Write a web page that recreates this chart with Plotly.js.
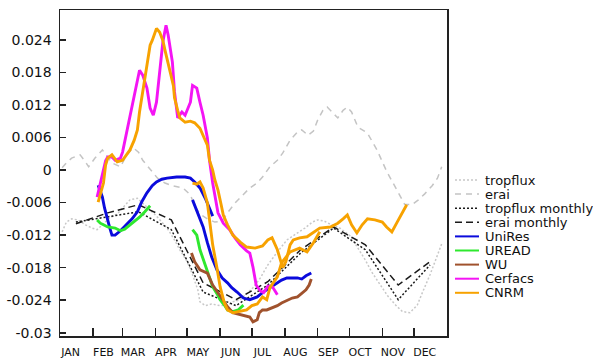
<!DOCTYPE html>
<html>
<head>
<meta charset="utf-8">
<script src="https://cdn.plot.ly/plotly-3.0.1.min.js"></script>
<style>html,body{margin:0;padding:0;background:#fff;}#chart{width:593px;height:359px;}</style>
</head>
<body>
<div id="chart"></div>
<script>
// ---- data (x = day of year, y = value) ----
const monthNames = ["JAN","FEB","MAR","APR","MAY","JUN","JUL","AUG","SEP","OCT","NOV","DEC"];
const monthStarts = [0,31,59,90,120,151,181,212,243,273,304,334];
const yTickVals = [-0.03,-0.024,-0.018,-0.012,-0.006,0,0.006,0.012,0.018,0.024];
const yTickText = ["-0.03","-0.024","-0.018","-0.012","-0.006","0","0.006","0.012","0.018","0.024"];

const tropfluxDays = [2,6,11,17,24,30,35,41,47,54,60,66,73,78,83,90,96,102,108,113,120,125,130,132,137,143,151,158,163,170,176,182,189,196,205,214,224,231,238,243,249,256,264,274,281,288,294,302,309,317,323,330,337,342,349,355,360];
const tropfluxVals = [-0.0114,-0.0096,-0.0090,-0.0092,-0.0101,-0.0107,-0.0110,-0.0099,-0.0088,-0.0081,-0.0068,-0.0055,-0.0052,-0.0061,-0.0070,-0.0083,-0.0096,-0.0110,-0.0129,-0.0147,-0.0169,-0.0193,-0.0221,-0.0243,-0.0250,-0.0247,-0.0250,-0.0249,-0.0243,-0.0239,-0.0228,-0.0217,-0.0199,-0.0175,-0.0151,-0.0129,-0.0116,-0.0107,-0.0096,-0.0092,-0.0094,-0.0101,-0.0107,-0.0122,-0.0144,-0.0166,-0.0188,-0.0212,-0.0232,-0.0250,-0.0261,-0.0263,-0.0249,-0.0225,-0.0193,-0.0162,-0.0136];

const eraiDays = [2,6,11,19,24,27,33,40,44,49,57,63,69,74,78,83,87,92,99,106,116,123,127,132,139,146,153,158,165,173,179,186,191,198,205,210,217,224,228,234,239,243,248,252,257,262,267,271,275,281,290,299,308,318,325,332,338,344,351,356,360];
const eraiVals = [0.0004,0.0013,0.0022,0.0028,0.0015,0.0006,0.0022,0.0037,0.0026,0.0013,0.0006,0.0028,0.0041,0.0033,0.0018,0.0006,-0.0004,-0.0015,-0.0024,-0.0029,-0.0033,-0.0046,-0.0066,-0.0081,-0.0090,-0.0096,-0.0094,-0.0079,-0.0061,-0.0044,-0.0033,-0.0024,-0.0013,0.0006,0.0018,0.0031,0.0055,0.0070,0.0074,0.0064,0.0072,0.0092,0.0110,0.0116,0.0105,0.0096,0.0110,0.0116,0.0107,0.0079,0.0068,0.0037,-0.0002,-0.0037,-0.0063,-0.0064,-0.0055,-0.0044,-0.0029,-0.0015,0.0006];

const monthMidDays = [15,45,74,105,135,166,196,227,258,288,319,349];
const tropfluxMonthlyVals = [-0.0096,-0.0087,-0.0077,-0.0110,-0.0225,-0.0250,-0.0212,-0.0153,-0.0107,-0.0147,-0.0239,-0.0175];
const eraiMonthlyVals = [-0.0099,-0.0079,-0.0064,-0.0092,-0.0208,-0.0239,-0.0206,-0.0147,-0.0105,-0.0138,-0.0212,-0.0169];

// model forecasts: runs separated by null
const uniresDays = [36,38,40,42,44,47,49,52,57,63,68,73,77,82,87,91,96,101,110,118,123,127,132,137,141,144,null,
  125,130,135,139,143,148,153,158,162,167,173,179,186,191,195,200,205,209,214,219,224,228,232,237];
const uniresVals = [-0.0028,-0.0039,-0.0050,-0.0070,-0.0087,-0.0107,-0.0120,-0.0120,-0.0112,-0.0101,-0.0090,-0.0077,-0.0059,-0.0042,-0.0029,-0.0022,-0.0017,-0.0015,-0.0013,-0.0013,-0.0015,-0.0022,-0.0033,-0.0052,-0.0070,-0.0085,null,
  -0.0055,-0.0079,-0.0105,-0.0134,-0.0160,-0.0184,-0.0199,-0.0208,-0.0217,-0.0225,-0.0236,-0.0239,-0.0234,-0.0226,-0.0221,-0.0215,-0.0208,-0.0203,-0.0199,-0.0199,-0.0199,-0.0201,-0.0195,-0.0190];

const ureadDays = [35,38,41,45,52,57,61,66,71,75,80,85,null,
  125,129,132,136,139,141,144,148,151,155,158,163,168,173];
const ureadVals = [-0.0092,-0.0098,-0.0101,-0.0105,-0.0107,-0.0112,-0.0109,-0.0101,-0.0094,-0.0087,-0.0077,-0.0066,null,
  -0.0110,-0.0120,-0.0147,-0.0169,-0.0184,-0.0199,-0.0215,-0.0228,-0.0239,-0.0249,-0.0258,-0.0261,-0.0258,-0.0249];

const wuDays = [124,127,132,139,144,149,154,158,163,170,175,179,182,186,188,191,195,200,205,209,214,219,224,228,232,235,237];
const wuVals = [-0.0153,-0.0169,-0.0184,-0.0190,-0.0212,-0.0226,-0.0239,-0.0252,-0.0263,-0.0267,-0.0269,-0.0271,-0.0280,-0.0276,-0.0263,-0.0258,-0.0258,-0.0254,-0.0250,-0.0245,-0.0241,-0.0236,-0.0234,-0.0228,-0.0221,-0.0212,-0.0201];

const cerfacsDays = [35,38,41,43,45,49,52,57,59,63,68,73,75,78,82,85,88,91,94,97,100,102,106,108,111,115,118,123,125,129,132,135,139,141,144,149,154,160,165,170,176,179,182,185,189,192,196,200,205];
const cerfacsVals = [-0.0050,-0.0024,-0.0004,0.0017,0.0024,0.0024,0.0018,0.0022,0.0033,0.0070,0.0120,0.0169,0.0184,0.0175,0.0151,0.0114,0.0101,0.0125,0.0188,0.0236,0.0267,0.0249,0.0199,0.0144,0.0096,0.0107,0.0101,0.0125,0.0156,0.0151,0.0125,0.0101,0.0059,0.0018,-0.0024,-0.0079,-0.0098,-0.0110,-0.0125,-0.0138,-0.0149,-0.0153,-0.0179,-0.0212,-0.0223,-0.0226,-0.0214,-0.0214,-0.0230];

const cnrmDays = [36,38,41,43,45,49,54,59,66,70,73,75,78,81,83,85,87,90,91,94,97,99,102,104,107,108,111,113,118,123,127,132,136,139,141,144,146,149,152,154,158,163,170,176,184,191,196,200,205,210,213,217,220,226,233,238,245,255,262,267,271,275,280,285,290,297,304,308,313,318,323,327,null,
  125,129,132,135,139,141,144,148,151,155,158,163,170,176,181,186,191,195,198,205,209,217,226,233,239,245];
const cnrmVals = [-0.0059,-0.0046,-0.0024,0.0009,0.0022,0.0028,0.0015,0.0018,0.0037,0.0055,0.0074,0.0107,0.0144,0.0184,0.0212,0.0230,0.0239,0.0254,0.0261,0.0254,0.0239,0.0221,0.0199,0.0180,0.0155,0.0133,0.0110,0.0096,0.0088,0.0090,0.0087,0.0077,0.0059,0.0046,0.0018,0.0000,-0.0018,-0.0037,-0.0064,-0.0083,-0.0101,-0.0120,-0.0133,-0.0142,-0.0144,-0.0140,-0.0129,-0.0125,-0.0147,-0.0180,-0.0169,-0.0138,-0.0129,-0.0125,-0.0123,-0.0116,-0.0107,-0.0105,-0.0098,-0.0090,-0.0083,-0.0101,-0.0116,-0.0101,-0.0090,-0.0092,-0.0096,-0.0105,-0.0114,-0.0096,-0.0079,-0.0064,null,
  -0.0024,-0.0026,-0.0022,-0.0033,-0.0061,-0.0096,-0.0138,-0.0180,-0.0215,-0.0245,-0.0258,-0.0263,-0.0261,-0.0258,-0.0250,-0.0247,-0.0234,-0.0239,-0.0217,-0.0197,-0.0171,-0.0151,-0.0144,-0.0151,-0.0134,-0.0114];

const seriesNames = ["tropflux","erai","tropflux monthly","erai monthly","UniRes","UREAD","WU","Cerfacs","CNRM"];

// ---- styles ----
const styles = [
  {color:"#c8c8c8", width:1.5, dash:"2px,2px"},
  {color:"#c4c4c4", width:1.5, dash:"6px,5px"},
  {color:"#1a1a1a", width:1.5, dash:"2px,2px"},
  {color:"#1a1a1a", width:1.5, dash:"7px,4px"},
  {color:"#0b0bdc", width:2.9, dash:"solid"},
  {color:"#2ee82e", width:2.9, dash:"solid"},
  {color:"#a0522d", width:2.9, dash:"solid"},
  {color:"#f414f4", width:2.9, dash:"solid"},
  {color:"#f7a200", width:2.9, dash:"solid"}
];
const xs = [tropfluxDays, eraiDays, monthMidDays, monthMidDays, uniresDays, ureadDays, wuDays, cerfacsDays, cnrmDays];
const ys = [tropfluxVals, eraiVals, tropfluxMonthlyVals, eraiMonthlyVals, uniresVals, ureadVals, wuVals, cerfacsVals, cnrmVals];

const traces = seriesNames.map((n,i)=>({
  type:"scatter", mode:"lines", name:n, x:xs[i], y:ys[i],
  connectgaps:false, showlegend:false, hoverinfo:"skip",
  line:{color:styles[i].color, width:styles[i].width, dash:styles[i].dash}
}));

// ---- layout ----
const W=593, H=359, L=60, R=146, T=10, B=23;
const pw = W-L-R, ph = H-T-B;
const px2x = p => (p-L)/pw;
const py2y = p => (H-B-p)/ph;

const shapes = [], annotations = [];
const legTop = 180, legStep = 14.1;
seriesNames.forEach((n,i)=>{
  const yy = py2y(legTop + i*legStep);
  shapes.push({type:"line", xref:"paper", yref:"paper", x0:px2x(455), x1:px2x(479), y0:yy, y1:yy,
    line:{color:styles[i].color, width:Math.min(styles[i].width,2), dash:styles[i].dash}});
  annotations.push({xref:"paper", yref:"paper", x:px2x(483), y:yy, xanchor:"left", yanchor:"middle",
    text:n, showarrow:false, font:{family:"DejaVu Sans", size:13, color:"#111"}});
});

const layout = {
  width:W, height:H,
  margin:{l:L, r:R, t:T, b:B, pad:0},
  paper_bgcolor:"#fff", plot_bgcolor:"#fff",
  showlegend:false,
  font:{family:"DejaVu Sans", color:"#111"},
  xaxis:{
    range:[0,365], showgrid:false, zeroline:false,
    showline:true, mirror:true, linecolor:"#222", linewidth:1.5,
    tickmode:"array", tickvals:monthStarts.map(d=>d+10), ticktext:monthNames,
    ticks:"", ticklabelstandoff:5,
    tickfont:{family:"DejaVu Sans", size:11, color:"#111"},
    minor:{tickmode:"array", tickvals:monthStarts.slice(1), ticks:"inside", ticklen:8, tickwidth:1.5, tickcolor:"#222", showgrid:false}
  },
  yaxis:{
    range:[-0.0306,0.0295], showgrid:false, zeroline:false,
    showline:true, mirror:true, linecolor:"#222", linewidth:1.5,
    tickmode:"array", tickvals:yTickVals, ticktext:yTickText,
    ticks:"inside", ticklen:6, tickwidth:1.5, tickcolor:"#222",
    ticklabelstandoff:4,
    tickfont:{family:"DejaVu Sans", size:14, color:"#111"}
  },
  shapes:shapes,
  annotations:annotations
};

Plotly.newPlot("chart", traces, layout, {staticPlot:true, displayModeBar:false});
</script>
</body>
</html>
